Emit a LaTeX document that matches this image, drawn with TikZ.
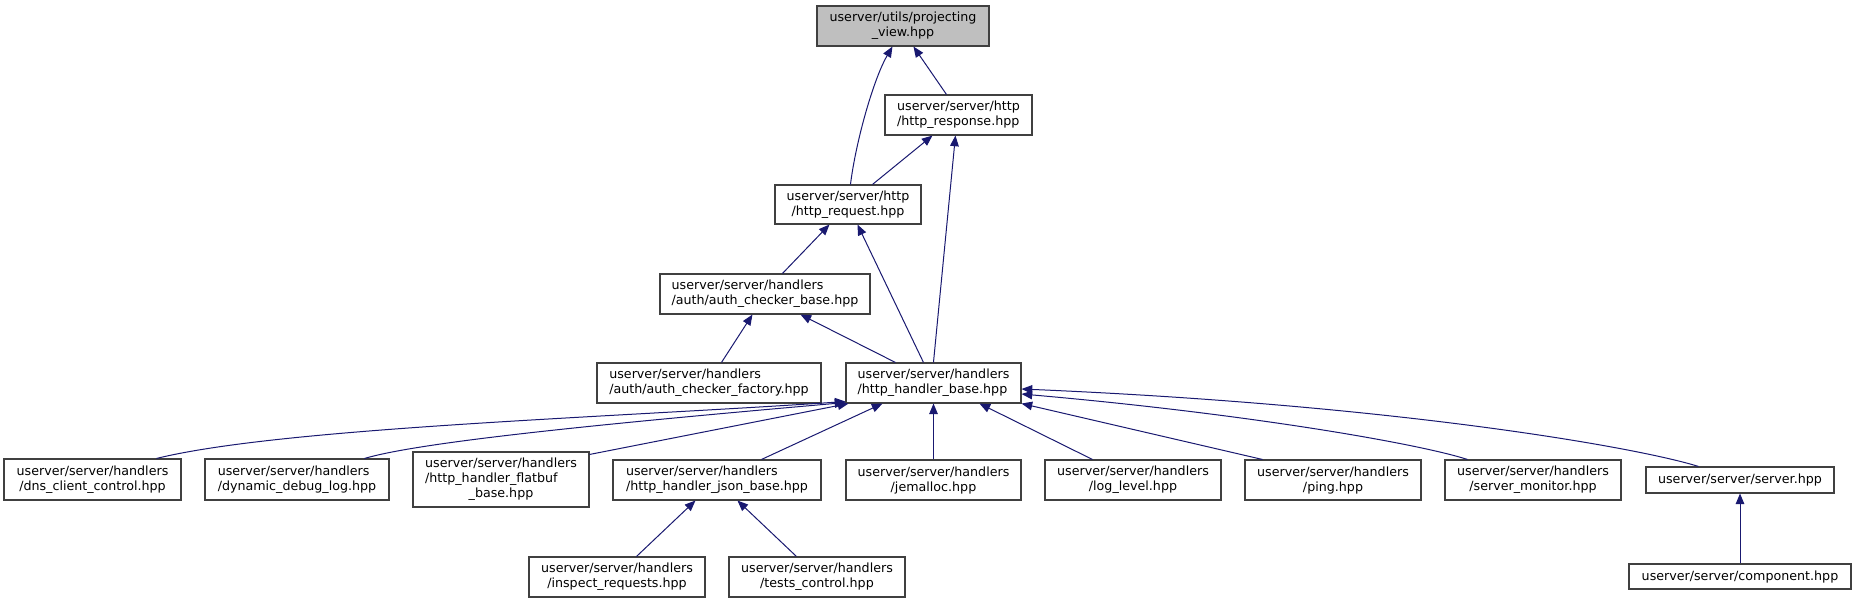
\documentclass[tikz,border=0pt]{standalone}
\usepackage{fontspec}
\setmainfont{DejaVu Sans}
\usetikzlibrary{calc,arrows.meta}
\definecolor{edgeblue}{HTML}{191970}
\definecolor{boxline}{HTML}{404040}
\definecolor{curfill}{HTML}{BFBFBF}
\tikzset{
  box/.style={draw=boxline, line width=0.8pt, inner sep=0pt, fill=white,
    font=\fontsize{9.5pt}{11.25pt}\selectfont, align=center},
  curbox/.style={box, fill=curfill},
  edge/.style={draw=edgeblue, line width=0.75pt,
    -{Triangle[length=8pt,width=6.5pt]}}
}
% \bx[options]{name}{x1}{y1}{x2}{y2}{text}
\newcommand\bx[7][]{%
  \node[box,#1,minimum width={(#5-#3)*0.75pt},minimum height={(#6-#4)*0.75pt}]
    (#2) at ({(#3+#5)/2},{(#4+#6)/2}) {#7};}
\begin{document}
\begin{tikzpicture}[x=0.75pt,y=-0.75pt]
\useasboundingbox (0,0) rectangle (1856,603);
% nodes
\bx[curbox]{pv}{817}{6}{989}{46}{userver/utils/projecting\\\_view.hpp}
\bx[align=left]{resp}{885}{95}{1032}{135}{userver/server/http\\/http\_response.hpp}
\bx{req}{775}{185}{921}{224}{userver/server/http\\/http\_request.hpp}
\bx[align=left]{acb}{660}{274}{870}{314}{userver/server/handlers\\/auth/auth\_checker\_base.hpp}
\bx[align=left]{acf}{597}{363}{821}{403}{userver/server/handlers\\/auth/auth\_checker\_factory.hpp}
\bx[align=left]{hhb}{846}{363}{1021}{403}{userver/server/handlers\\/http\_handler\_base.hpp}
\bx{dns}{4}{459}{181}{500}{userver/server/handlers\\/dns\_client\_control.hpp}
\bx[align=left]{ddl}{205}{459}{389}{500}{userver/server/handlers\\/dynamic\_debug\_log.hpp}
\bx{flat}{413}{452}{589}{507}{\begin{tabular}{@{}l@{}}userver/server/handlers\\/http\_handler\_flatbuf\\\multicolumn{1}{@{}c@{}}{\_base.hpp}\end{tabular}}
\bx[align=left]{json}{613}{460}{821}{500}{userver/server/handlers\\/http\_handler\_json\_base.hpp}
\bx{jem}{846}{460}{1021}{500}{userver/server/handlers\\/jemalloc.hpp}
\bx{log}{1045}{460}{1221}{500}{userver/server/handlers\\/log\_level.hpp}
\bx{ping}{1245}{460}{1421}{500}{userver/server/handlers\\/ping.hpp}
\bx{mon}{1445}{460}{1621}{500}{userver/server/handlers\\/server\_monitor.hpp}
\bx{srv}{1646}{467}{1834}{493}{userver/server/server.hpp}
\bx{comp}{1629}{564}{1851}{589}{userver/server/component.hpp}
\bx{insp}{529}{557}{705}{597}{userver/server/handlers\\/inspect\_requests.hpp}
\bx{tests}{729}{557}{905}{597}{userver/server/handlers\\/tests\_control.hpp}
% edges
\draw[edge] ($(req.north west)+(76,0)$) .. controls (856,140) and (874,78) .. ($(pv.south west)+(76,0)$);
\draw[edge] ($(resp.north west)+(62,0)$) -- ($(pv.south west)+(97,0)$);
\draw[edge] ($(req.north west)+(98,0)$) -- ($(resp.south west)+(48,0)$);
\draw[edge] ($(hhb.north west)+(88,0)$) -- ($(resp.south west)+(71,0)$);
\draw[edge] ($(acb.north west)+(123,0)$) -- ($(req.south west)+(55,0)$);
\draw[edge] ($(hhb.north west)+(78,0)$) -- ($(req.south west)+(83,0)$);
\draw[edge] ($(hhb.north west)+(50,0)$) -- ($(acb.south west)+(141,0)$);
\draw[edge] ($(acf.north west)+(125,0)$) -- ($(acb.south west)+(93,0)$);
\draw[edge] ($(dns.north west)+(153,0)$) .. controls (280,428) and (600,418) .. ($(hhb.south west)+(0,-2)$);
\draw[edge] ($(ddl.north west)+(160,0)$) .. controls (420,442) and (600,424) .. ($(hhb.south west)+(0,-1)$);
\draw[edge] ($(flat.north east)+(0,3)$) -- ($(hhb.south west)+(3,0)$);
\draw[edge] ($(json.north west)+(149,0)$) -- ($(hhb.south west)+(37,0)$);
\draw[edge] (jem.north) -- (hhb.south);
\draw[edge] ($(log.north west)+(48,0)$) -- ($(hhb.south west)+(134,0)$);
\draw[edge] ($(ping.north west)+(18,0)$) -- (hhb.south east);
\draw[edge] ($(mon.north west)+(23,0)$) .. controls (1420,444) and (1250,414) .. ($(hhb.east)+(0,11)$);
\draw[edge] ($(srv.north west)+(53,0)$) .. controls (1640,448) and (1400,405) .. ($(hhb.east)+(0,6)$);
\draw[edge] ($(insp.north west)+(108,0)$) -- ($(json.south west)+(83,0)$);
\draw[edge] ($(tests.north west)+(68,0)$) -- ($(json.south west)+(125,0)$);
\draw[edge] (comp.north) -- (srv.south);
\end{tikzpicture}
\end{document}
